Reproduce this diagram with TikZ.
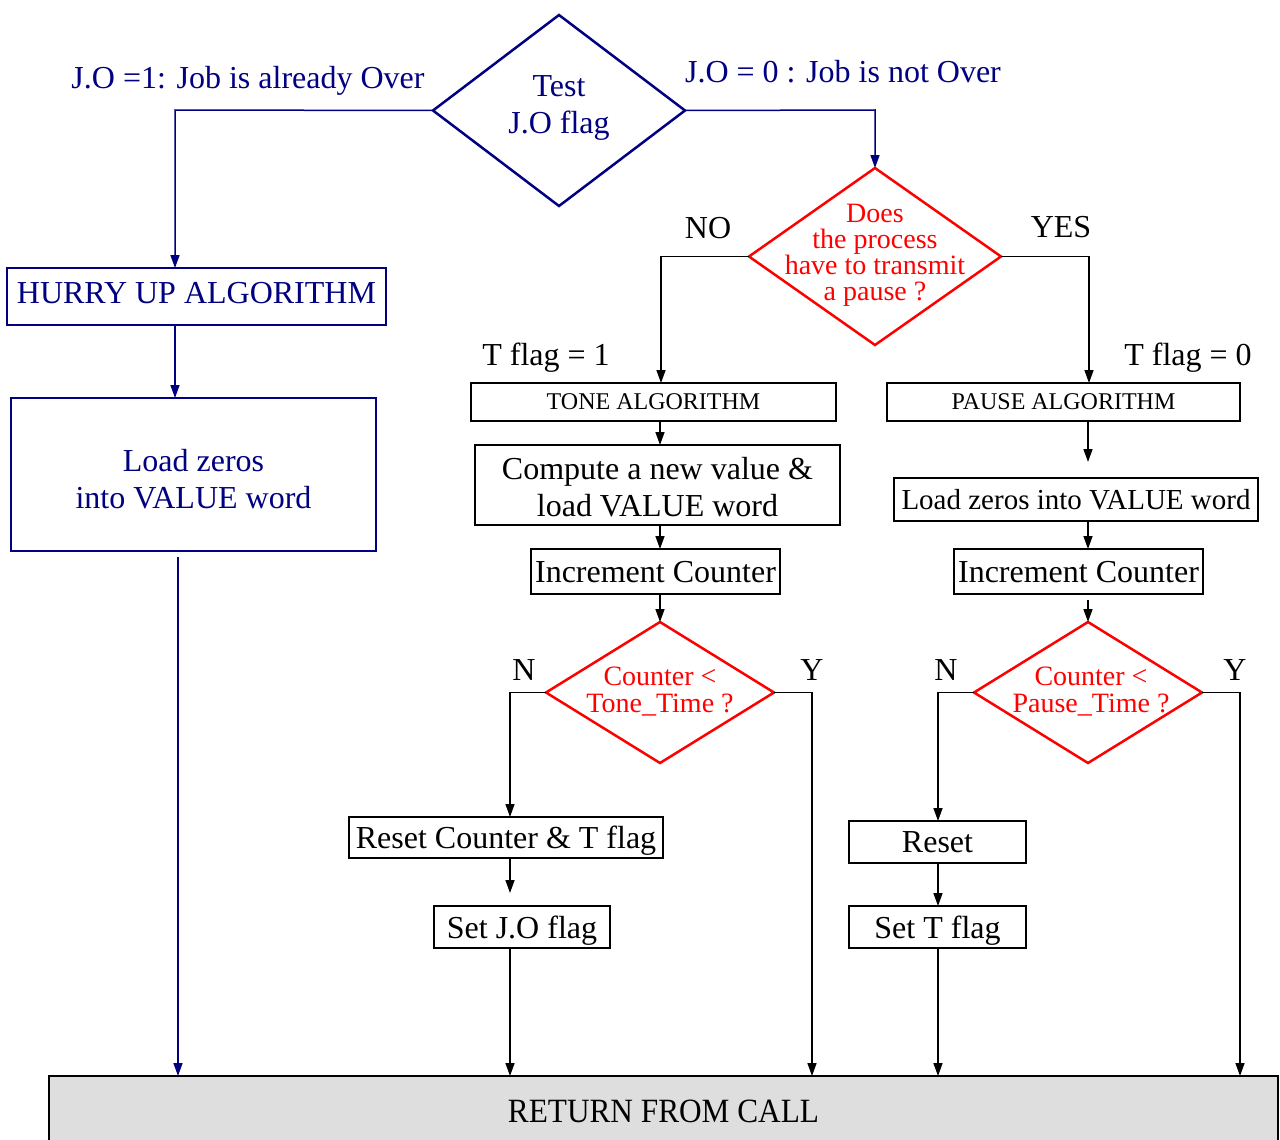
\documentclass[tikz,border=0pt]{standalone}
\usepackage{fontspec}
\setmainfont{Liberation Serif}
\usetikzlibrary{shapes.geometric,arrows.meta}
\definecolor{jonavy}{RGB}{0,0,128}
\definecolor{retgray}{RGB}{222,222,222}
\begin{document}
\begin{tikzpicture}[x=1pt,y=-1pt,
  every node/.style={inner sep=0pt, outer sep=0pt},
  fbig/.style={font=\fontsize{32}{37}\selectfont},
  fmid/.style={font=\fontsize{29}{34}\selectfont},
  fsmall/.style={font=\fontsize{24}{28}\selectfont},
  fred/.style={font=\fontsize{28}{26}\selectfont},
  fredb/.style={font=\fontsize{28}{27}\selectfont},
  oneline/.style={text depth=0pt},
  box/.style={draw, line width=2pt, rectangle},
  bluebox/.style={box, draw=jonavy, text=jonavy},
  blackbox/.style={box, draw=black},
  dia/.style={diamond, draw, line width=2.5pt},
  link/.style={line width=1.5pt, -{Triangle[length=13pt,width=9pt]}},
  bluelink/.style={link, color=jonavy},
]
\useasboundingbox (0,0) rectangle (1280,1140);

% ---- top decision: job over? ----
\node[dia, draw=jonavy, minimum width=252, minimum height=191] (d1) at (559,110.5) {};
\node[fbig, text=jonavy, align=center] (d1t) at (559,107.5) {Test\\J.O flag};
\node[fbig, oneline, text=jonavy] (lj1) at (248,77) {J.O =1: Job is already Over};
\node[fbig, text=jonavy] (lj0) at (843,72) {J.O = 0 : Job is not Over};

% ---- hurry-up branch ----
\node[bluebox, fbig, minimum width=379, minimum height=57, text depth=8pt] (hurry) at (196.5,296.5) {HURRY UP ALGORITHM};
\node[bluebox, minimum width=365, minimum height=153,
  label={[fbig, text=jonavy, align=center, yshift=-5pt]center:{Load zeros\\into VALUE word}}] (zeroL) at (193.5,474.5) {};

% ---- pause decision ----
\node[dia, draw=red, minimum width=252, minimum height=177] (d2) at (875,256.5) {};
\node[fred, text=red, align=center] (d2t) at (875,255) {Does\\the process\\have to transmit\\a pause ?};
\node[fbig] (lno) at (708,228) {NO};
\node[fbig] (lyes) at (1061,227) {YES};
\node[fbig, oneline] (lt1) at (546,354) {T flag = 1};
\node[fbig, oneline] (lt0) at (1188,354) {T flag = 0};

% ---- tone column ----
\node[blackbox, fsmall, minimum width=365, minimum height=38] (tone) at (653.5,402) {TONE ALGORITHM};
\node[blackbox, minimum width=365, minimum height=80,
  label={[fbig, align=center, yshift=-2.5pt]center:{Compute a new value \&\\load VALUE word}}] (compute) at (657.5,485) {};
\node[blackbox, fbig, oneline, minimum width=249, minimum height=45] (inc1) at (655.5,571.5) {Increment Counter};
\node[dia, draw=red, minimum width=228, minimum height=141] (d3) at (660,692.5) {};
\node[fredb, text=red, align=center] (d3t) at (660,691.5) {Counter <\\Tone\_Time ?};
\node[fbig] (ln1) at (524,670) {N};
\node[fbig] (ly1) at (812,670) {Y};
\node[blackbox, fbig, oneline, minimum width=314, minimum height=41] (reset1) at (506,837.5) {Reset Counter \& T flag};
\node[blackbox, fbig, oneline, minimum width=176, minimum height=42] (setjo) at (522,927) {Set J.O flag};

% ---- pause column ----
\node[blackbox, fsmall, minimum width=353, minimum height=38] (pause) at (1063.5,402) {PAUSE ALGORITHM};
\node[blackbox, fmid, oneline, minimum width=364, minimum height=43] (zeroR) at (1076,499.5) {Load zeros into VALUE word};
\node[blackbox, fbig, oneline, minimum width=249, minimum height=45] (inc2) at (1078.5,571.5) {Increment Counter};
\node[dia, draw=red, minimum width=228, minimum height=141] (d4) at (1088,692.5) {};
\node[fredb, text=red, align=center] (d4t) at (1091,691.5) {Counter <\\Pause\_Time ?};
\node[fbig] (ln2) at (946,670) {N};
\node[fbig] (ly2) at (1235,670) {Y};
\node[blackbox, fbig, oneline, minimum width=177, minimum height=42] (reset2) at (937.5,842) {Reset};
\node[blackbox, fbig, oneline, minimum width=177, minimum height=42] (settf) at (937.5,927) {Set T flag};

% ---- common exit ----
\node[draw, line width=2pt, fill=retgray, minimum width=1229, minimum height=70] (ret) at (663.5,1111)
  {\scalebox{0.92}[1]{\fontsize{34}{38}\selectfont RETURN FROM CALL}};

% ---- column and bend points ----
\coordinate (b1) at (175,110);
\coordinate (b2) at (178,557);
\coordinate (b3) at (875,110);
\coordinate (b4) at (661,256.5);
\coordinate (b5) at (1089,256.5);
\coordinate (cT) at (660,0);
\coordinate (cP) at (1088,0);
\coordinate (b6) at (510,692.5);
\coordinate (b7) at (812,692.5);
\coordinate (b8) at (938,692.5);
\coordinate (b9) at (1240,692.5);

% ---- blue connectors ----
\draw[bluelink] (d1.west) -- (b1) -- (b1 |- hurry.north);
\draw[bluelink] (hurry.south -| b1) -- (zeroL.north -| b1);
\draw[bluelink, shorten <=6pt] (zeroL.south -| b2) -- (ret.north -| b2);
\draw[bluelink] (d1.east) -- (b3) -- (d2.north);

% ---- black connectors ----
\draw[link] (d2.west) -- (b4) -- (b4 |- tone.north);
\draw[link] (d2.east) -- (b5) -- (b5 |- pause.north);

\draw[link] (tone.south -| cT) -- (compute.north -| cT);
\draw[link] (compute.south -| cT) -- (inc1.north -| cT);
\draw[link] (inc1.south -| cT) -- (d3.north);
\draw[link] (d3.west) -- (b6) -- (b6 |- reset1.north);
\draw[link, shorten >=13pt] (reset1.south -| b6) -- (setjo.north -| b6);
\draw[link] (setjo.south -| b6) -- (ret.north -| b6);
\draw[link] (d3.east) -- (b7) -- (b7 |- ret.north);

\draw[link, shorten >=16pt] (pause.south -| cP) -- (zeroR.north -| cP);
\draw[link] (zeroR.south -| cP) -- (inc2.north -| cP);
\draw[link, shorten <=6pt] (inc2.south -| cP) -- (d4.north);
\draw[link] (d4.west) -- (b8) -- (b8 |- reset2.north);
\draw[link] (reset2.south -| b8) -- (settf.north -| b8);
\draw[link] (settf.south -| b8) -- (ret.north -| b8);
\draw[link] (d4.east) -- (b9) -- (b9 |- ret.north);
\end{tikzpicture}
\end{document}
